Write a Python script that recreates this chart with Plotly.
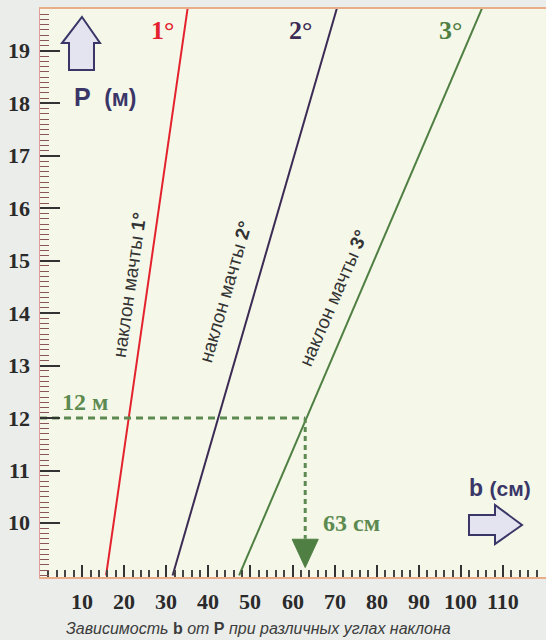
import plotly.graph_objects as go

# ---- data ----
P_ends = [9, 20]                # mast height P (m), line endpoints
b_1deg = [15.7, 35.4]           # b (cm) for 1° tilt
b_2deg = [31.5, 71.2]           # b (cm) for 2° tilt
b_3deg = [47.3, 106.0]          # b (cm) for 3° tilt
example_P = 12                  # worked example: P = 12 m
example_b = 63                  # -> b = 63 cm
x_tickvals = [10, 20, 30, 40, 50, 60, 70, 80, 90, 100, 110]
y_tickvals = [10, 11, 12, 13, 14, 15, 16, 17, 18, 19]

RED = "#e3222e"
PURPLE = "#3b2b55"
GREEN = "#4f7f42"
DGREEN = "#5c8a50"
NAVY = "#3a3668"

W, H = 546, 640
L, R, T, B = 40, 0, 9, 63
PW, PH = W - L - R, H - T - B


def fx(px):
    return (px - L) / PW


def fy(py):
    return (H - B - py) / PH


fig = go.Figure()

for b, col in [(b_1deg, RED), (b_2deg, PURPLE), (b_3deg, GREEN)]:
    fig.add_trace(go.Scatter(x=b, y=P_ends, mode="lines",
                             line=dict(color=col, width=2), showlegend=False,
                             hoverinfo="skip"))

# dashed guide lines of the example
fig.add_trace(go.Scatter(x=[0, example_b], y=[example_P, example_P], mode="lines",
                         line=dict(color=DGREEN, width=3, dash="7px,5px"),
                         showlegend=False, hoverinfo="skip"))
fig.add_trace(go.Scatter(x=[example_b, example_b], y=[example_P, 9.7], mode="lines",
                         line=dict(color=DGREEN, width=3, dash="5px,4px"),
                         showlegend=False, hoverinfo="skip"))
# arrow head (triangle) pointing down to the b axis
fig.add_trace(go.Scatter(x=[example_b - 3.1, example_b + 3.1, example_b, example_b - 3.1],
                         y=[9.69, 9.69, 9.15, 9.69], mode="lines", fill="toself",
                         fillcolor=GREEN, line=dict(color=GREEN, width=1),
                         showlegend=False, hoverinfo="skip"))

shapes = []
# up arrow (P axis)
up = [(82, 17), (100, 43), (94, 43), (94, 70), (69, 70), (69, 43), (62, 43)]
path = "M " + " L ".join(f"{fx(x):.4f},{fy(y):.4f}" for x, y in up) + " Z"
shapes.append(dict(type="path", xref="paper", yref="paper", path=path,
                   fillcolor="#e4e4f0", line=dict(color=NAVY, width=2)))
# right arrow (b axis)
rt = [(469, 515), (495, 515), (495, 505), (522, 525), (495, 544), (495, 535), (469, 535)]
path = "M " + " L ".join(f"{fx(x):.4f},{fy(y):.4f}" for x, y in rt) + " Z"
shapes.append(dict(type="path", xref="paper", yref="paper", path=path,
                   fillcolor="#e4e4f0", line=dict(color=NAVY, width=2)))

ann = []


def add_text(text, x, y, size, color, family, xanchor="center", angle=0):
    ann.append(dict(text=text, x=fx(x), y=fy(y), xref="paper", yref="paper",
                    showarrow=False, xanchor=xanchor, yanchor="middle",
                    textangle=angle, font=dict(size=size, color=color, family=family)))


SERIF = "Liberation Serif"
SANS = "Liberation Sans"
add_text("<b>1°</b>", 162, 31, 26, RED, SERIF)
add_text("<b>2°</b>", 300, 31, 26, PURPLE, SERIF)
add_text("<b>3°</b>", 450, 31, 26, GREEN, SERIF)
add_text("<b>P  <span style='font-size:23px'>(м)</span></b>", 72, 97, 25, NAVY, SANS,
         xanchor="left")
add_text("<b>b <span style='font-size:21px'>(см)</span></b>", 467, 488, 23, NAVY, SANS,
         xanchor="left")
add_text("<b>12 м</b>", 60, 402, 24, DGREEN, SERIF, xanchor="left")
add_text("<b>63 см</b>", 321, 523, 24, DGREEN, SERIF, xanchor="left")
add_text("наклон мачты <b>1°</b>", 129, 285, 19, "#333333", SANS, angle=-81.8)
add_text("наклон мачты <b>2°</b>", 226, 292, 19, "#333333", SANS, angle=-73.8)
add_text("наклон мачты <b>3°</b>", 333, 298, 19, "#333333", SANS, angle=-66.8)
ann.append(dict(text="<i>Зависимость </i><b>b</b><i> от </i><b>P</b><i> при различных углах наклона</i>",
                x=fx(258), y=fy(628), xref="paper", yref="paper", showarrow=False,
                xanchor="center", yanchor="middle",
                font=dict(size=16, color="#3c3c3c", family=SANS)))

# axis tick labels (serif bold), placed on the axes' own scales
for v in x_tickvals:
    ann.append(dict(text=f"<b>{v}</b>", x=v, xref="x", y=fy(601), yref="paper",
                    showarrow=False, xanchor="center", yanchor="middle",
                    font=dict(size=22, color="#2a2a2a", family=SERIF)))
for v in y_tickvals:
    ann.append(dict(text=f"<b>{v}</b>", x=fx(32), xref="paper", y=v, yref="y",
                    showarrow=False, xanchor="right", yanchor="middle",
                    font=dict(size=22, color="#2a2a2a", family=SERIF)))

fig.update_layout(
    width=W, height=H, autosize=False,
    margin=dict(l=L, r=R, t=T, b=B, pad=0, autoexpand=False),
    paper_bgcolor="#eaedea", plot_bgcolor="#f5f8e9",
    shapes=shapes, annotations=ann, showlegend=False,
    xaxis=dict(range=[0, 120.2], showgrid=False, zeroline=False, automargin=False,
               tickvals=x_tickvals, showticklabels=False,
               ticks="inside", ticklen=12, tickwidth=2, tickcolor="#333333",
               showline=True, linecolor="#e9ad8a", linewidth=2, mirror=True,
               minor=dict(dtick=2, tick0=0, ticks="inside", ticklen=7, tickwidth=1.5,
                          tickcolor="#444444", showgrid=False)),
    yaxis=dict(range=[8.97, 19.8], showgrid=False, zeroline=False, automargin=False,
               tickvals=y_tickvals, showticklabels=False,
               ticks="inside", ticklen=20, tickwidth=2, tickcolor="#333333",
               showline=True, linecolor="#e39a9a", linewidth=1,
               minor=dict(dtick=0.1, tick0=9, ticks="inside", ticklen=9, tickwidth=1.2,
                          tickcolor="#8a5555", showgrid=False)),
)

fig.write_html("out.html", config={"displayModeBar": False},
               post_script="document.body.style.margin='0';")
